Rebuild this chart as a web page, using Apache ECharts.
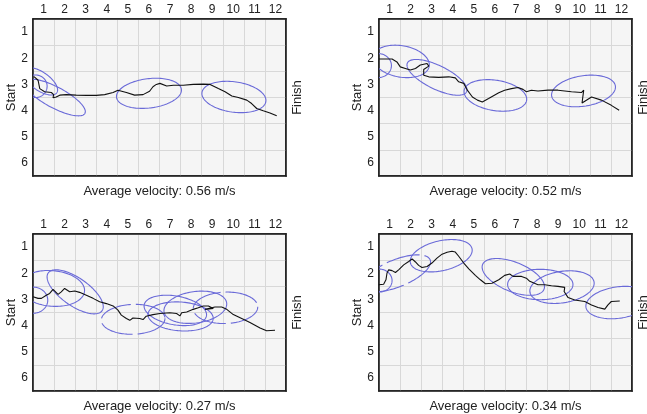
<!DOCTYPE html>
<html><head><meta charset="utf-8">
<script src="https://cdn.jsdelivr.net/npm/echarts@6/dist/echarts.min.js"></script>
<style>html,body{margin:0;padding:0;background:#fff}#c{width:647px;height:414px}</style>
</head><body><div id="c"></div>
<script>
// ---------- data ----------
const xTicks = ['1','2','3','4','5','6','7','8','9','10','11','12'];
const yTicks = ['1','2','3','4','5','6'];
const velocities = ['0.56', '0.52', '0.27', '0.34'];

// trajectories [x, y]
const path1 = [[0.55,2.7],[0.74,2.84],[0.82,3.16],[1.05,3.28],[1.37,3.31],[1.48,3.39],[1.45,3.51],[1.6,3.48],[1.77,3.41],[2.08,3.39],[2.55,3.41],[3.05,3.42],[3.5,3.42],[3.9,3.39],[4.3,3.31],[4.53,3.22],[4.93,3.31],[5.32,3.41],[5.72,3.39],[6.03,3.26],[6.19,3.09],[6.35,3.0],[6.52,2.96],[6.84,3.06],[7.16,3.03],[7.63,3.03],[8.1,3.0],[8.58,2.99],[8.9,3.0],[9.29,3.16],[9.61,3.28],[9.93,3.44],[10.24,3.5],[10.64,3.6],[10.87,3.73],[11.11,3.92],[11.42,4.01],[11.74,4.09],[12.06,4.2]];
const path2 = [[0.5,2.03],[1.12,2.03],[1.35,2.14],[1.51,2.33],[1.75,2.39],[1.99,2.45],[2.23,2.39],[2.46,2.26],[2.78,2.2],[2.86,2.3],[2.62,2.43],[2.62,2.65],[2.86,2.71],[3.33,2.73],[3.81,2.71],[4.12,2.75],[4.28,2.9],[4.52,2.96],[4.69,3.22],[4.93,3.48],[5.17,3.6],[5.4,3.67],[5.7,3.54],[6.18,3.32],[6.46,3.22],[6.78,3.16],[7.09,3.12],[7.33,3.19],[7.49,3.28],[7.73,3.22],[8.04,3.25],[8.52,3.22],[8.99,3.22],[9.63,3.28],[10.1,3.31],[10.21,3.22],[10.13,3.71],[10.58,3.48],[11.05,3.6],[11.52,3.8],[11.89,3.99]];
const path3 = [[0.5,2.9],[0.74,2.96],[0.9,2.96],[1.13,2.84],[1.29,2.77],[1.45,2.62],[1.53,2.68],[1.69,2.81],[1.84,2.71],[2.0,2.58],[2.08,2.65],[2.24,2.71],[2.48,2.68],[2.71,2.73],[3.03,2.84],[3.35,2.96],[3.66,3.09],[3.98,3.16],[4.3,3.25],[4.53,3.41],[4.69,3.6],[4.93,3.73],[5.09,3.8],[5.24,3.71],[5.56,3.73],[5.72,3.77],[5.87,3.64],[6.19,3.58],[6.52,3.54],[6.99,3.51],[7.31,3.54],[7.39,3.48],[7.47,3.63],[7.55,3.51],[7.79,3.48],[8.1,3.38],[8.34,3.32],[8.58,3.25],[8.82,3.25],[9.05,3.35],[8.66,3.38],[9.13,3.29],[9.45,3.29],[9.69,3.38],[10.0,3.58],[10.4,3.73],[10.79,3.88],[11.27,4.09],[11.58,4.2],[11.98,4.18]];
const path4 = [[0.49,2.44],[0.72,2.42],[0.83,2.25],[0.88,1.99],[0.96,1.87],[1.12,1.9],[1.28,1.97],[1.43,1.87],[1.67,1.68],[1.91,1.55],[2.07,1.45],[2.23,1.57],[2.38,1.7],[2.54,1.78],[2.78,1.74],[3.01,1.61],[3.25,1.42],[3.49,1.27],[3.73,1.2],[3.96,1.16],[4.12,1.19],[4.28,1.35],[4.52,1.61],[4.76,1.83],[5.07,2.08],[5.31,2.25],[5.55,2.4],[5.86,2.38],[6.18,2.25],[6.46,2.08],[6.7,2.03],[6.86,2.12],[7.26,2.12],[7.49,2.19],[7.65,2.31],[7.73,2.38],[8.04,2.44],[8.36,2.44],[8.68,2.48],[8.99,2.5],[9.31,2.54],[9.28,2.7],[9.47,2.93],[9.78,3.02],[10.26,3.08],[10.58,3.21],[10.89,3.31],[11.21,3.37],[11.36,3.21],[11.52,3.08],[11.92,3.06]];

// ellipses [cx, cy, semi-axis (x units), semi-axis (y units), rotation deg]
const ellipses1 = [[0.62,3.07,0.55,0.43,0],[0.85,2.88,0.95,0.35,35],[1.55,3.5,1.6,0.4,28],[6.0,3.34,1.55,0.56,-7],[10.03,3.48,1.53,0.58,8]];
const ellipses2 = [[0.45,2.28,0.64,0.46,0],[1.55,2.12,1.35,0.6,10],[3.25,2.73,1.56,0.45,26],[6.02,3.42,1.5,0.58,9],[10.2,3.25,1.53,0.58,-9]];
const ellipses3 = [[0.5,3.03,0.7,0.5,0],[1.4,2.58,1.55,0.68,5],[2.5,2.71,1.56,0.53,35],[5.25,3.76,1.51,0.57,-2],[7.25,3.42,1.5,0.55,10],[7.5,3.65,1.55,0.55,4],[8.2,3.3,1.5,0.6,-8],[9.63,3.32,1.53,0.6,-2]];
const ellipses4 = [[0.5,2.28,0.62,0.44,0],[1.35,2.0,1.7,0.52,-22],[3.45,1.33,1.5,0.57,-13],[6.87,2.14,1.57,0.56,22],[8.15,2.43,1.55,0.58,0],[9.18,2.53,1.54,0.6,-9],[11.85,3.12,1.55,0.6,-8]];

// ---------- styling / layout ----------
const dashed = {2: [3, 7], 3: [1]};
const FONT = 'Liberation Sans, Arial, sans-serif';
const panels = [
  {left: 33, top: 19, path: path1, ell: ellipses1},
  {left: 379, top: 19, path: path2, ell: ellipses2},
  {left: 33, top: 234, path: path3, ell: ellipses3},
  {left: 379, top: 234, path: path4, ell: ellipses4}
];
const W = 253, H = 157;
const ELL_COLOR = '#6a6ad8';
const AX = '#1a1a1a';

const grid = [], xAxis = [], yAxis = [], series = [];
panels.forEach((p, i) => {
  grid.push({left: p.left, top: p.top, width: W, height: H, show: true,
    backgroundColor: '#f5f5f5', borderColor: AX, borderWidth: 1.5, outerBoundsMode: 'none', containLabel: false});
  xAxis.push({type: 'category', gridIndex: i, position: 'top', data: xTicks, boundaryGap: true,
    axisLine: {show: true, onZero: false, lineStyle: {color: AX, width: 1.5}}, axisTick: {show: false},
    axisLabel: {fontSize: 12, color: '#222', margin: 3, fontFamily: FONT, interval: 0},
    splitLine: {show: true, interval: 0, lineStyle: {color: '#d8d8d8', width: 1}}});
  xAxis.push({type: 'value', gridIndex: i, position: 'bottom', min: 0.5, max: 12.5,
    axisLine: {show: true, onZero: false, lineStyle: {color: AX, width: 1.5}}, axisTick: {show: false},
    axisLabel: {show: false}, splitLine: {show: false},
    name: 'Average velocity: ' + velocities[i] + ' m/s', nameLocation: 'middle', nameGap: 9,
    nameTextStyle: {fontSize: 13, color: '#222', fontFamily: FONT}});
  yAxis.push({type: 'category', gridIndex: i, position: 'left', inverse: true, data: yTicks, boundaryGap: true,
    axisLine: {show: true, onZero: false, lineStyle: {color: AX, width: 1.5}}, axisTick: {show: false},
    axisLabel: {fontSize: 12, color: '#222', margin: 5, fontFamily: FONT, interval: 0},
    splitLine: {show: true, interval: 0, lineStyle: {color: '#d8d8d8', width: 1}},
    name: 'Start', nameLocation: 'middle', nameGap: 15, nameRotate: 90,
    nameTextStyle: {fontSize: 13, color: '#222', fontFamily: FONT}});
  yAxis.push({type: 'value', gridIndex: i, position: 'right', inverse: true, min: 0.5, max: 6.5,
    axisLine: {show: true, onZero: false, lineStyle: {color: AX, width: 1.5}}, axisTick: {show: false},
    axisLabel: {show: false}, splitLine: {show: false},
    name: 'Finish', nameLocation: 'middle', nameGap: 5, nameRotate: 90,
    nameTextStyle: {fontSize: 13, color: '#222', fontFamily: FONT}});
  const dset = dashed[i] || [];
  series.push({type: 'custom', xAxisIndex: 2*i+1, yAxisIndex: 2*i+1, clip: true, z: 2,
    data: p.ell, encode: {x: 0, y: 1},
    renderItem: function (params, api) {
      const cx = api.value(0), cy = api.value(1), a = api.value(2), b = api.value(3);
      const ang = api.value(4) * Math.PI / 180;
      const c = api.coord([cx, cy]);
      const s = api.size([a, b], [cx, cy]);
      const A = s[0], B = s[1];
      const pts = [];
      for (let k = 0; k < 120; k++) {
        const t = 2 * Math.PI * k / 120;
        const ex = A * Math.cos(t), ey = B * Math.sin(t);
        pts.push([c[0] + ex * Math.cos(ang) - ey * Math.sin(ang), c[1] + ex * Math.sin(ang) + ey * Math.cos(ang)]);
      }
      const isDash = dset.indexOf(params.dataIndex) >= 0;
      return {type: 'polygon', shape: {points: pts},
        style: {fill: 'none', stroke: ELL_COLOR, lineWidth: 1.1, lineDash: isDash ? [34, 5] : null}};
    }});
  series.push({type: 'line', xAxisIndex: 2*i+1, yAxisIndex: 2*i+1, data: p.path, showSymbol: false, symbol: 'none',
    z: 3, lineStyle: {color: '#111', width: 1.1}});
});

const chart = echarts.init(document.getElementById('c'), null, {renderer: 'canvas'});
chart.setOption({animation: false, backgroundColor: '#fff', textStyle: {fontFamily: FONT}, grid, xAxis, yAxis, series});
</script></body></html>
